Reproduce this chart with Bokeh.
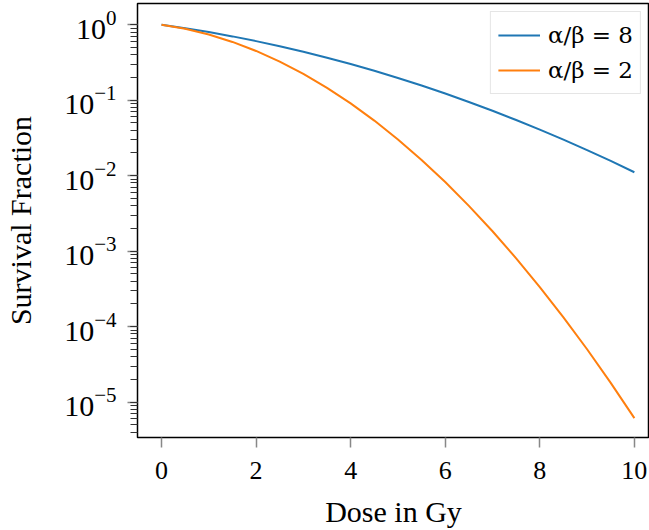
from bokeh.plotting import figure
from bokeh.models import Range1d, Legend, LegendItem, FixedTicker
from bokeh.embed import file_html
from bokeh.resources import INLINE

dose = [0.0, 0.5, 1.0, 1.5, 2.0, 2.5, 3.0, 3.5, 4.0, 4.5, 5.0,
        5.5, 6.0, 6.5, 7.0, 7.5, 8.0, 8.5, 9.0, 9.5, 10.0]
sf_ab8 = [1.0, 0.8992, 0.7985, 0.7003, 0.6065, 0.5188, 0.4382, 0.3656, 0.3012, 0.2451, 0.1969,
          0.1563, 0.1225, 0.0948, 0.0724, 0.0547, 0.0408, 0.0300, 0.0218, 0.0157, 0.0111]
sf_ab2 = [1.0, 0.8825, 0.7408, 0.5916, 0.4493, 0.3247, 0.2231, 0.1459, 0.0907, 0.0537, 0.0302,
          0.01616, 0.00823, 0.00398, 0.001836, 0.000804, 0.000335, 0.0001329, 5.02e-5, 1.80e-5, 6.14e-6]
labels = ["α/β = 8", "α/β = 2"]
x_ticks = [0, 2, 4, 6, 8, 10]

FONT = "Liberation Serif"

p = figure(width=649, height=530, y_axis_type="log",
           x_range=Range1d(-0.508, 10.32), y_range=Range1d(3.4e-6, 1.91),
           output_backend="svg", toolbar_location=None,
           min_border_left=137, min_border_right=0, min_border_top=3, min_border_bottom=0)

r1 = p.line(dose, sf_ab8, line_color="#1f77b4", line_width=2)
r2 = p.line(dose, sf_ab2, line_color="#ff7f0e", line_width=2)

p.grid.visible = False
p.outline_line_color = "black"
p.outline_line_width = 1.5
p.background_fill_color = "white"
p.border_fill_color = "white"

p.xaxis.ticker = FixedTicker(ticks=x_ticks)
for ax in (p.xaxis[0], p.yaxis[0]):
    ax.axis_line_color = None
    ax.major_tick_in = 0
    ax.major_tick_out = 10
    ax.major_tick_line_color = "#888888"
    ax.major_tick_line_width = 1.5
    ax.minor_tick_in = 0
    ax.minor_tick_out = 7
    ax.minor_tick_line_color = "#333333"
    ax.major_label_text_font = FONT
    ax.major_label_text_color = "black"
    ax.axis_label_text_font = FONT
    ax.axis_label_text_font_size = "30px"
    ax.axis_label_text_font_style = "normal"
    ax.axis_label_text_color = "black"

p.xaxis.major_label_text_font_size = "26px"
p.yaxis.major_label_text_font_size = "30px"
p.xaxis.axis_label = "Dose in Gy"
p.yaxis.axis_label = "Survival Fraction"
p.xaxis.major_label_standoff = 14
p.xaxis.axis_label_standoff = 13
p.yaxis.major_label_standoff = 11
p.yaxis.axis_label_standoff = 24

legend = Legend(items=[LegendItem(label=labels[0], renderers=[r1]),
                       LegendItem(label=labels[1], renderers=[r2])],
                location="top_right")
legend.label_text_font = "DejaVu Serif"
legend.label_text_font_size = "23px"
legend.label_text_color = "black"
legend.label_standoff = 8
legend.glyph_width = 42
legend.glyph_height = 32
legend.label_height = 32
legend.spacing = 3
legend.padding = 7
legend.margin = 8
legend.border_line_color = "#cccccc"
legend.border_line_width = 1.2
legend.background_fill_alpha = 1.0
p.add_layout(legend)

open("out.html", "w").write(file_html(p, INLINE))
